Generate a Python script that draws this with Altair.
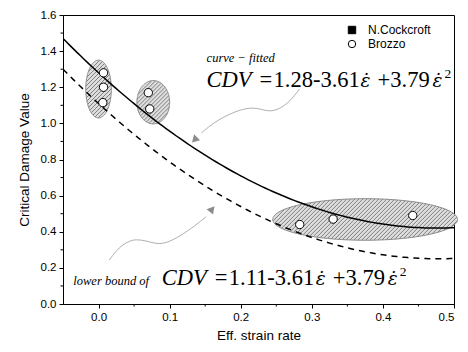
import altair as alt
import numpy as np
import pandas as pd

# ---------------- data ----------------
x_min, x_max = -0.05, 0.5
y_min, y_max = 0.0, 1.6
W, H = 391, 289

series_names = ["N.Cockcroft", "Brozzo"]
brozzo_x = [0.007, 0.007, 0.006, 0.070, 0.072, 0.283, 0.330, 0.442]
brozzo_y = [1.28, 1.20, 1.115, 1.17, 1.08, 0.44, 0.47, 0.49]

fit_coef = [1.28, -3.61, 3.79]
lower_coef = [1.11, -3.61, 3.79]

ell_cx = [0.0, 0.077, 0.375]
ell_cy = [1.19, 1.117, 0.468]
ell_rx = [0.018, 0.023, 0.130]
ell_ry = [0.16, 0.12, 0.115]

x_major = [0.0, 0.1, 0.2, 0.3, 0.4, 0.5]
x_minor = [0.05, 0.15, 0.25, 0.35, 0.45]
y_major = [0.0, 0.2, 0.4, 0.6, 0.8, 1.0, 1.2, 1.4, 1.6]
y_minor = [0.1, 0.3, 0.5, 0.7, 0.9, 1.1, 1.3, 1.5]

up_arrow_x = [0.2827, 0.2686, 0.2545, 0.2404, 0.2235, 0.2080, 0.1869, 0.1630, 0.1446]
up_arrow_y = [1.1905, 1.1185, 1.0797, 1.0631, 1.0853, 1.0853, 1.0576, 1.0078, 0.9468]
up_head = (0.1362, 0.9136, 225)
lo_arrow_x = [0.0151, 0.0292, 0.0432, 0.0527, 0.0668, 0.0808, 0.0949, 0.1137, 0.1372, 0.1513]
lo_arrow_y = [0.2436, 0.3173, 0.3488, 0.3582, 0.3505, 0.3322, 0.3361, 0.3727, 0.4374, 0.4834]
lo_head = (0.1587, 0.5205, 40)

# formula pieces: text, style, x offset (px) from the formula start
EPS_DOT = "\u03b5\u0307"
piece_text = ["CDV", "=", None, EPS_DOT, None, EPS_DOT, "2"]
piece_style = ["i", "n", "n", "e", "n", "e", "s"]
piece_dx = [0, 53, 67, 154, 171, 226, 238]
upper_numbers = ["1.28-3.61", "+3.79"]
lower_numbers = ["1.11-3.61", "+3.79"]
upper_start = (0.1520, 1.2015)   # data coords of formula start / baseline
lower_start = (0.0890, 0.105)

small_text = ["curve \u2212 fitted", "lower bound of"]
small_x = [0.152, -0.0355]
small_y = [1.34, 0.105]

# ---------------- derived tables ----------------
sx = W / (x_max - x_min)
sy = H / (y_max - y_min)

pts = pd.DataFrame({"x": brozzo_x, "y": brozzo_y, "series": "Brozzo"})

ell_rows, ell_outline, hatch = [], [], []
for k, (cx, cy, rx, ry) in enumerate(zip(ell_cx, ell_cy, ell_rx, ell_ry)):
    for xx in np.linspace(-rx, rx, 81):
        h = ry * np.sqrt(max(0.0, 1 - (xx / rx) ** 2))
        ell_rows.append({"e": k, "x": cx + xx, "y": cy + h, "y2": cy - h})
    for i, th in enumerate(np.linspace(0, 2 * np.pi, 121)):
        ell_outline.append({"e": k, "i": i, "x": cx + rx * np.cos(th), "y": cy + ry * np.sin(th)})
    A, B = rx * sx, ry * sy
    L = np.hypot(A, B)
    for c in np.arange(-L, L, 4.0):
        a = 1 / A**2 + 1 / B**2
        b = -2 * c / B**2
        cc = c**2 / B**2 - 1
        d = b * b - 4 * a * cc
        if d <= 0:
            continue
        u1 = (-b - np.sqrt(d)) / (2 * a)
        u2 = (-b + np.sqrt(d)) / (2 * a)
        v1, v2 = c - u1, c - u2
        hatch.append({"x": cx + u1 / sx, "y": cy - v1 / sy,
                      "x2": cx + u2 / sx, "y2": cy - v2 / sy})
ell_df = pd.DataFrame(ell_rows)
ell_out_df = pd.DataFrame(ell_outline)
hatch_df = pd.DataFrame(hatch)

up_df = pd.DataFrame({"x": up_arrow_x, "y": up_arrow_y, "i": range(len(up_arrow_x))})
lo_df = pd.DataFrame({"x": lo_arrow_x, "y": lo_arrow_y, "i": range(len(lo_arrow_x))})
heads = pd.DataFrame({"x": [up_head[0], lo_head[0]], "y": [up_head[1], lo_head[1]],
                      "a": [up_head[2], lo_head[2]]})

rows = []
for start, nums in [(upper_start, upper_numbers), (lower_start, lower_numbers)]:
    ni = iter(nums)
    for t, s, dx in zip(piece_text, piece_style, piece_dx):
        txt = t if t is not None else next(ni)
        yy = start[1] + (9 / sy if s == "s" else 0)
        rows.append({"x": start[0] + dx / sx, "y": yy, "t": txt, "s": s})
form_df = pd.DataFrame(rows)
small_df = pd.DataFrame({"x": small_x, "y": small_y, "t": small_text})

# ---------------- encodings ----------------
xs = alt.Scale(domain=[x_min, x_max], nice=False, zero=False)
ys = alt.Scale(domain=[y_min, y_max], nice=False, zero=False)
X = alt.X("x:Q", scale=xs, title="Eff. strain rate",
          axis=alt.Axis(values=x_major, format=".1f", tickSize=4, labelPadding=3,
                        titlePadding=6, grid=False))
Y = alt.Y("y:Q", scale=ys, title="Critical Damage Value",
          axis=alt.Axis(values=y_major, format=".1f", tickSize=4, labelPadding=3,
                        titlePadding=9, grid=False))

ell_fill = alt.Chart(ell_df).mark_area(color="#dedede", opacity=1).encode(
    x=X, y=Y, y2="y2:Q", detail="e:N")
hatch_layer = alt.Chart(hatch_df).mark_rule(color="#555555", strokeWidth=0.7).encode(
    x=X, y=Y, x2="x2:Q", y2="y2:Q")
ell_line = alt.Chart(ell_out_df).mark_line(color="#8a8a8a", strokeWidth=1).encode(
    x=X, y=Y, detail="e:N", order="i:Q")

def curve(coef, dash):
    base = alt.Chart(alt.sequence(x_min, x_max + 0.0001, 0.005, as_="x")).transform_calculate(
        y=f"{coef[0]} + ({coef[1]})*datum.x + ({coef[2]})*datum.x*datum.x")
    kw = {"color": "black", "strokeWidth": 1.5, "clip": True}
    if dash:
        kw["strokeDash"] = [6, 5]
    return base.mark_line(**kw).encode(x=X, y=Y)

fit_line = curve(fit_coef, False)
low_line = curve(lower_coef, True)

leg = alt.Legend(orient="none", legendX=283, legendY=9, title=None,
                 labelFont="Liberation Sans", labelFontSize=12, labelColor="black",
                 symbolSize=55, symbolStrokeWidth=1, rowPadding=2, labelOffset=10, padding=0)
points = alt.Chart(pts).mark_point(stroke="black", strokeWidth=1, size=70, opacity=1).encode(
    x=X, y=Y,
    shape=alt.Shape("series:N", scale=alt.Scale(domain=series_names, range=["square", "circle"]),
                    legend=leg),
    fill=alt.Fill("series:N", scale=alt.Scale(domain=series_names, range=["black", "white"]),
                  legend=leg),
)

up_arrow = alt.Chart(up_df).mark_line(color="#9a9a9a", strokeWidth=0.8, interpolate="basis").encode(
    x=X, y=Y, order="i:Q")
lo_arrow = alt.Chart(lo_df).mark_line(color="#9a9a9a", strokeWidth=0.8, interpolate="basis").encode(
    x=X, y=Y, order="i:Q")
head_layer = alt.Chart(heads).mark_point(shape="triangle", filled=True, color="#8c8c8c",
                                         size=70, opacity=1).encode(
    x=X, y=Y, angle=alt.Angle("a:Q", scale=None))

def ftext(style, **kw):
    base = dict(align="left", baseline="alphabetic", color="black")
    base.update(kw)
    return alt.Chart(form_df).transform_filter(f"datum.s == '{style}'").mark_text(**base).encode(
        x=X, y=Y, text="t:N")

f_ital = ftext("i", font="Liberation Serif", fontStyle="italic", fontSize=22.5)
f_norm = ftext("n", font="Liberation Serif", fontSize=22.5)
f_eps = ftext("e", font="DejaVu Serif", fontStyle="italic", fontSize=18.5)
f_sup = ftext("s", font="Liberation Serif", fontSize=13.5)
t_small = alt.Chart(small_df).mark_text(font="Liberation Serif", fontStyle="italic", fontSize=12.5,
                                        align="left", baseline="alphabetic", color="black").encode(
    x=X, y=Y, text="t:N")

minor_x = alt.Chart(pd.DataFrame({"x": x_minor})).mark_rule(color="black", strokeWidth=1).encode(
    x=X, y=alt.value(H), y2=alt.value(H + 2.5))
minor_y = alt.Chart(pd.DataFrame({"y": y_minor})).mark_rule(color="black", strokeWidth=1).encode(
    y=Y, x=alt.value(0), x2=alt.value(-2.5))

chart = alt.layer(
    ell_fill, hatch_layer, ell_line, fit_line, low_line, up_arrow, lo_arrow, head_layer,
    points, f_ital, f_norm, f_eps, f_sup, t_small, minor_x, minor_y
).properties(
    width=W, height=H,
    autosize=alt.AutoSizeParams(type="none"),
    padding={"left": 63, "top": 15, "right": 14, "bottom": 48},
).configure_view(
    stroke="black", strokeWidth=1
).configure_axis(
    domainColor="black", tickColor="black", labelColor="black", titleColor="black",
    labelFont="Liberation Sans", titleFont="Liberation Sans", labelFontSize=11.5,
    titleFontSize=13.5, titleFontWeight="normal", domainWidth=1, tickWidth=1
)

chart.save("out.html", embed_options={"renderer": "svg", "actions": False})
